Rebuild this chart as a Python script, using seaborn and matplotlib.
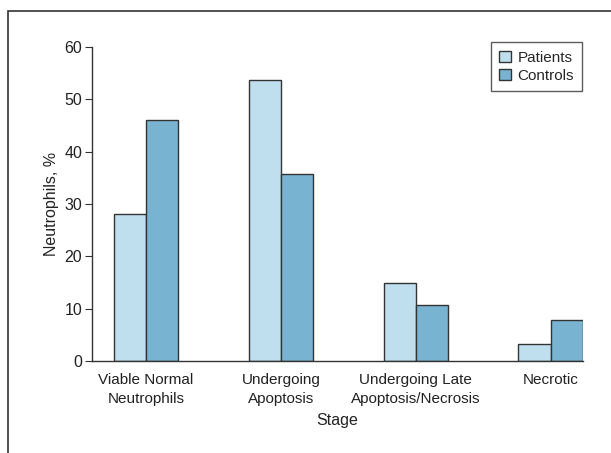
import numpy as np
import pandas as pd
import matplotlib.pyplot as plt
import seaborn as sns
from matplotlib.patches import Rectangle

stages = ["Viable Normal\nNeutrophils", "Undergoing\nApoptosis",
          "Undergoing Late\nApoptosis/Necrosis", "Necrotic"]
patients = [28.0, 53.7, 15.0, 3.3]
controls = [46.0, 35.8, 10.7, 7.8]
groups = ["Patients", "Controls"]
colors = ["#bfdfef", "#78b4d1"]

df = pd.DataFrame({
    "stage": stages * 2,
    "value": patients + controls,
    "group": [groups[0]] * 4 + [groups[1]] * 4,
})

sns.set_style("white")
plt.rcParams["font.family"] = ["Liberation Sans Narrow", "Liberation Sans", "DejaVu Sans"]

fig = plt.figure(figsize=(6.11, 4.53), dpi=100)
ax = fig.add_axes([0.1506, 0.2031, 0.8034, 0.6931])

sns.barplot(data=df, x="stage", y="value", hue="group", palette=colors,
            saturation=1, width=0.476, edgecolor="#333333", linewidth=1.0,
            ax=ax, legend=True)

ax.set_xlim(-0.4, 3.24)
ax.set_ylim(0, 60)
ax.set_yticks([0, 10, 20, 30, 40, 50, 60])
ax.tick_params(axis="y", length=5, width=0.8, color="#333333", labelsize=11.5,
               pad=2, left=True, labelcolor="#222222")
ax.tick_params(axis="x", length=0, labelsize=11, pad=9, labelcolor="#222222")
for lbl in ax.get_xticklabels():
    lbl.set_linespacing(1.4)
for s in ["top", "right"]:
    ax.spines[s].set_visible(False)
for s in ["left", "bottom"]:
    ax.spines[s].set_color("#333333")
    ax.spines[s].set_linewidth(1.0)

ax.set_xlabel("Stage", fontsize=11.5, labelpad=5, color="#222222")
ax.set_ylabel("Neutrophils, %", fontsize=11.5, labelpad=4, color="#222222")

leg = ax.legend(loc="upper right", bbox_to_anchor=(0.999, 1.015), borderaxespad=0,
                fontsize=11, frameon=True, fancybox=False, edgecolor="#333333",
                handlelength=0.8, handleheight=0.8, handletextpad=0.4,
                labelspacing=0.25, borderpad=0.55)
leg.get_frame().set_linewidth(1.0)

fig.patches.append(Rectangle((8 / 611, -0.1), 1.2, (453 - 11) / 453 + 0.1,
                             transform=fig.transFigure, fill=False,
                             edgecolor="#333333", linewidth=1.2))

fig.savefig("out.png", dpi=100)
